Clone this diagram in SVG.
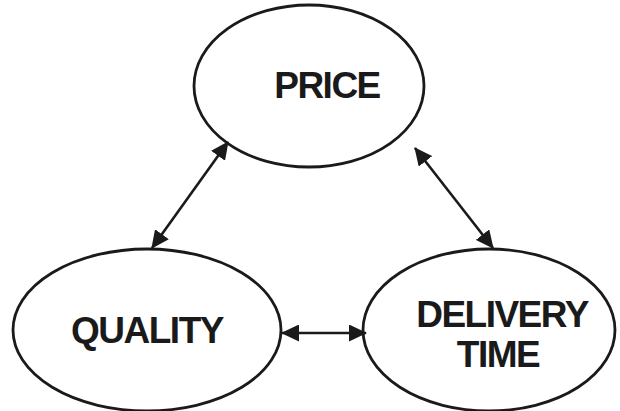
<svg xmlns="http://www.w3.org/2000/svg" width="620" height="411" viewBox="0 0 620 411">
<style>
.node ellipse{fill:#fff;stroke:#1a1a1a;stroke-width:2.8}
.node text{font-family:"Liberation Sans",Arial,sans-serif;font-weight:bold;font-size:37px;fill:#1a1a1a;text-anchor:middle;letter-spacing:-1.5px}
.conn line{stroke:#1a1a1a;stroke-width:2.6}
</style>
<defs>
<marker id="ah" viewBox="0 0 18 17" refX="17" refY="8.5" markerWidth="18" markerHeight="17" orient="auto-start-reverse" markerUnits="userSpaceOnUse">
<path d="M0,0 L18,8.5 L0,17 z" fill="#1a1a1a"/>
</marker>
</defs>
<rect width="620" height="411" fill="#fff"/>
<g id="price" class="node">
<ellipse cx="309" cy="86" rx="115" ry="81"/>
<text x="327" y="98">PRICE</text>
</g>
<g id="quality" class="node">
<ellipse cx="147" cy="330" rx="134" ry="81"/>
<text x="147" y="343">QUALITY</text>
</g>
<g id="delivery" class="node">
<ellipse cx="489" cy="330" rx="126" ry="81"/>
<text x="502" y="327">DELIVERY</text>
<text x="498" y="367">TIME</text>
</g>
<g id="connectors" class="conn">
<line x1="152" y1="248" x2="228" y2="142" marker-start="url(#ah)" marker-end="url(#ah)"/>
<line x1="415" y1="148" x2="493" y2="248" marker-start="url(#ah)" marker-end="url(#ah)"/>
<line x1="282" y1="333" x2="366" y2="333" marker-start="url(#ah)" marker-end="url(#ah)"/>
</g>
</svg>
